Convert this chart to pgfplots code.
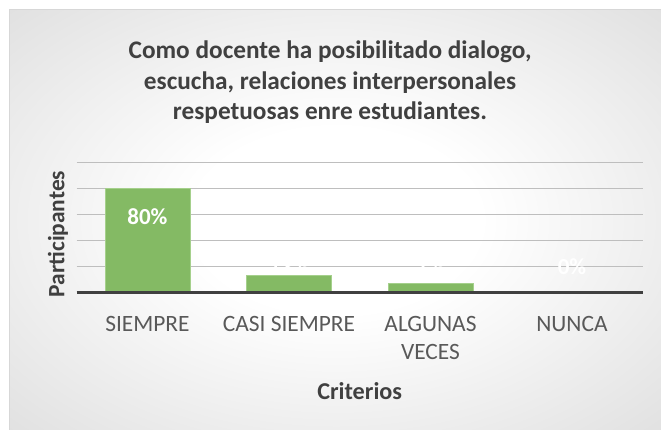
\documentclass[border=0pt]{standalone}
\usepackage{pgfplots}
\pgfplotsset{compat=1.18}
\usepackage{fontspec}
\setmainfont{Carlito}
\definecolor{barfill}{RGB}{132,186,100}
\definecolor{baredge}{RGB}{165,208,140}
\definecolor{gridgray}{RGB}{190,190,190}
\definecolor{basegray}{RGB}{64,64,64}
\definecolor{titlegray}{RGB}{64,64,64}
\definecolor{tickgray}{RGB}{89,89,89}
\definecolor{bgedge}{RGB}{207,207,207}
\definecolor{bgcorner}{RGB}{194,194,194}
\definecolor{framegray}{RGB}{215,215,215}
\pgfdeclareradialshading{bgshade}{\pgfpoint{0bp}{0bp}}{color(0bp)=(white); color(11bp)=(white); color(50bp)=(bgedge); color(72bp)=(bgcorner)}
\begin{document}
\begin{tikzpicture}[x=1bp,y=1bp]
\useasboundingbox (0,0) rectangle (661,429);
\fill[white] (0,0) rectangle (661,429);
\shade[shading=bgshade] (9,-2) rectangle (663,419);
\draw[framegray, line width=1bp] (9,-2) -- (9,419) -- (663,419);
% title
\node[anchor=base, font=\fontsize{25.3bp}{30.5bp}\selectfont\bfseries, text=titlegray, inner sep=0pt] at (330,370.5) {Como docente ha posibilitado dialogo,};
\node[anchor=base, font=\fontsize{25.3bp}{30.5bp}\selectfont\bfseries, text=titlegray, inner sep=0pt] at (330,339.7) {escucha, relaciones interpersonales};
\node[anchor=base, font=\fontsize{25.3bp}{30.5bp}\selectfont\bfseries, text=titlegray, inner sep=0pt] at (330,309.7) {respetuosas enre estudiantes.};
\begin{axis}[
  at={(76.7bp,136.7bp)}, anchor=south west,
  scale only axis, width=566bp, height=130bp,
  xmin=-0.5, xmax=3.5, ymin=0, ymax=100,
  axis line style={draw=none},
  tick style={draw=none},
  ytick={20,40,60,80,100}, yticklabels={},
  ymajorgrids, grid style={color=gridgray, line width=1bp},
  xtick={0,1,2,3},
  xticklabels={SIEMPRE, CASI SIEMPRE, {ALGUNAS\\VECES}, NUNCA},
  xticklabel style={align=center, font=\fontsize{23.4bp}{28.7bp}\selectfont, text=tickgray, anchor=north, inner sep=0pt, yshift=-23.5bp},
  ylabel={Participantes},
  ylabel style={at={(axis description cs:-0.033,0.448)}, anchor=center, rotate=0, font=\fontsize{23.4bp}{27bp}\selectfont\bfseries, text=titlegray, inner sep=0pt},
  xlabel={Criterios},
  xlabel style={at={(axis description cs:0.5,-0.759)}, anchor=center, font=\fontsize{24.2bp}{27bp}\selectfont\bfseries, text=titlegray, inner sep=0pt},
  clip=false,
]
\addplot[ybar, bar width=0.6, fill=barfill, draw=baredge, line width=0.75bp] coordinates {(0,80) (1,13) (2,7) (3,0)};
\addplot[draw=none, mark=none, nodes near coords, point meta=explicit symbolic,
  nodes near coords align=center,
  every node near coord/.append style={font=\fontsize{23bp}{25bp}\selectfont\bfseries, text=white, anchor=center, inner sep=0pt}]
  coordinates {(0,58.2) [80\%] (1,19.7) [13\%] (2,19.7) [7\%] (3,19.7) [0\%]};
\draw[basegray, line width=3bp] (axis cs:-0.5,0) -- (axis cs:3.5,0);
\end{axis}
\end{tikzpicture}
\end{document}
